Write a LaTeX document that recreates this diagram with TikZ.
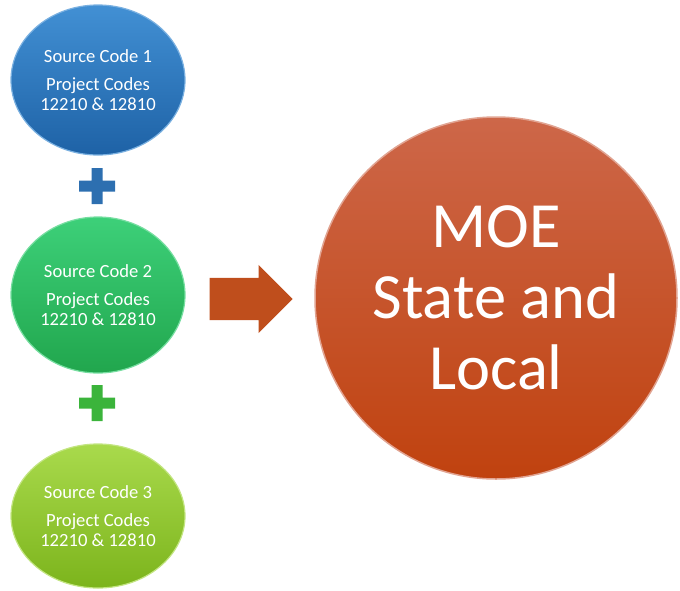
\documentclass[tikz,border=0pt]{standalone}
\usepackage{fontspec}
\setmainfont{Carlito}
\usetikzlibrary{shapes.geometric, shapes.arrows}

\definecolor{blueTop}{HTML}{4290D4}
\definecolor{blueBot}{HTML}{1E62A6}
\definecolor{greenTop}{HTML}{3DD079}
\definecolor{greenBot}{HTML}{21A64D}
\definecolor{limeTop}{HTML}{A9DA4C}
\definecolor{limeBot}{HTML}{7CB41C}
\definecolor{moeTop}{HTML}{CD6749}
\definecolor{moeBot}{HTML}{C0420F}
\definecolor{arrowOrange}{HTML}{BF4E1C}
\definecolor{plusBlue}{HTML}{2D6FB0}
\definecolor{plusGreen}{HTML}{3BB43B}

\begin{document}
\begin{tikzpicture}[x=1pt, y=-1pt,
	source/.style={ellipse, minimum width=174pt, inner sep=0pt, text=white, align=center,
		line width=1.2pt, font=\fontsize{18.6}{19.5}\selectfont}]
	\useasboundingbox (0,0) rectangle (680,590);
	% the three sources
	\node (src1) [source, minimum height=150pt, top color=blueTop, bottom color=blueBot, draw=blueTop!70!white] at (98,80)
		{Source Code 1\\[8.5pt]Project Codes\\12210 \& 12810};
	\node (src2) [source, minimum height=156pt, top color=greenTop, bottom color=greenBot, draw=greenTop!70!white] at (98,295)
		{Source Code 2\\[8.5pt]Project Codes\\12210 \& 12810};
	\node (src3) [source, minimum height=144pt, top color=limeTop, bottom color=limeBot, draw=limeTop!70!white] at (98,516)
		{Source Code 3\\[8.5pt]Project Codes\\12210 \& 12810};
	% plus signs
	\coordinate (plusA) at (97,186);
	\coordinate (plusB) at (97,403);
	\fill[plusBlue, shift={(plusA)}] (-18,-5.5) rectangle (18,5.5) (-5.5,-18) rectangle (5.5,18);
	\fill[plusGreen, shift={(plusB)}] (-18,-5.5) rectangle (18,5.5) (-5.5,-18) rectangle (5.5,18);
	% arrow and target
	\node (arrow) [single arrow, fill=arrowOrange, inner sep=0pt, minimum height=83pt, anchor=tip,
		single arrow head extend=13pt, single arrow tip angle=90] at (293,299) {\rule{0pt}{42pt}};
	\node (moe) [circle, minimum size=362pt, inner sep=0pt, top color=moeTop, bottom color=moeBot,
		draw=moeTop!60!white, line width=1.5pt, text=white, align=center,
		font=\fontsize{64.5}{71}\selectfont] at (496,298) {MOE\\State and\\Local};
\end{tikzpicture}
\end{document}
